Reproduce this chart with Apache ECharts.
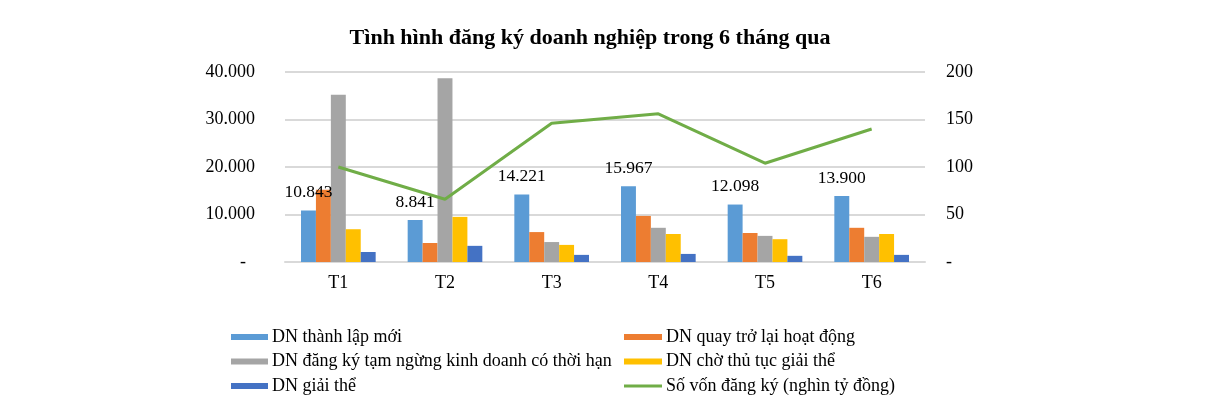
<!DOCTYPE html>
<html><head><meta charset="utf-8">
<script src="https://cdn.jsdelivr.net/npm/echarts@6/dist/echarts.min.js"></script>
<style>html,body{margin:0;padding:0;background:#fff}#c{width:1205px;height:416px}</style>
</head><body><div id="c"></div>
<script>
const categories = ['T1','T2','T3','T4','T5','T6'];
const thanhLapMoi = [10843, 8841, 14221, 15967, 12098, 13900];
const quayTroLai = [15200, 4000, 6300, 9700, 6100, 7200];
const tamNgung = [35200, 38700, 4200, 7200, 5500, 5300];
const choGiaiThe = [6900, 9500, 3600, 5900, 4800, 5900];
const giaiThe = [2100, 3400, 1500, 1700, 1300, 1500];
const soVon = [100, 66, 146, 156, 104, 140];
const names = ['DN thành lập mới','DN quay trở lại hoạt động','DN đăng ký tạm ngừng kinh doanh có thời hạn','DN chờ thủ tục giải thể','DN giải thể','Số vốn đăng ký (nghìn tỷ đồng)'];
const colors = ['#5B9BD5','#ED7D31','#A5A5A5','#FFC000','#4472C4','#70AD47'];
const FONT = '"Liberation Serif", "Times New Roman", serif';
const fmt = v => v === 0 ? '-\u2002' : v.toLocaleString('de-DE');
const chart = echarts.init(document.getElementById('c'));
const barSeries = [thanhLapMoi, quayTroLai, tamNgung, choGiaiThe, giaiThe].map((d,i)=>({
  name: names[i], type:'bar', data:d, yAxisIndex:0,
  barGap:'0%', barCategoryGap:'30%',
  itemStyle:{color:colors[i]},
  label: i===0 ? {show:true, position:'top', color:'#000', fontFamily:FONT, fontSize:17.5, distance:9, formatter:p=>fmt(p.value)} : {show:false}
}));
const legText = {fontFamily:FONT, fontSize:18, lineHeight:18, color:'#000', padding:[0,0,0,-1]};
chart.setOption({
  animation:false,
  color: colors,
  textStyle:{fontFamily:FONT},
  title:{text:'Tình hình đăng ký doanh nghiệp trong 6 tháng qua', left:585, textAlign:'center', top:22,
    textStyle:{fontFamily:FONT, fontWeight:'bold', fontSize:22, color:'#000'}},
  grid:{left:285, right:280, top:72, bottom:154, containLabel:false},
  legend:[
    {orient:'vertical', left:226, top:323, padding:5, itemGap:6.5, itemWidth:37, itemHeight:6, icon:'rect',
     data:[names[0],names[2],names[4]], textStyle:legText},
    {orient:'vertical', left:619, top:323, padding:5, itemGap:6.5, itemWidth:38, itemHeight:6, icon:'rect',
     data:[names[1],names[3]], textStyle:legText},
    {orient:'vertical', left:619, top:372, padding:5, itemGap:6.5, itemWidth:38, itemHeight:3, icon:'rect',
     data:[names[5]], textStyle:legText}
  ],
  xAxis:{type:'category', data:categories,
    axisLine:{show:true, lineStyle:{color:'#d9d9d9', width:2}}, axisTick:{show:false},
    axisLabel:{color:'#000', fontFamily:FONT, fontSize:18, margin:12}},
  yAxis:[
    {type:'value', min:0, max:40000, interval:10000,
     axisLine:{show:false}, axisTick:{show:false},
     splitLine:{lineStyle:{color:'#d9d9d9', width:2}},
     axisLabel:{color:'#000', fontFamily:FONT, fontSize:18, margin:30, formatter:fmt}},
    {type:'value', min:0, max:200, interval:50, position:'right',
     axisLine:{show:false}, axisTick:{show:false}, splitLine:{show:false},
     axisLabel:{color:'#000', fontFamily:FONT, fontSize:18, margin:21, formatter:v=>v===0?'-':String(v)}}
  ],
  series:[...barSeries,
    {name:names[5], type:'line', yAxisIndex:1, data:soVon, symbol:'none',
     lineStyle:{color:colors[5], width:3}, itemStyle:{color:colors[5]}}]
});
</script></body></html>
